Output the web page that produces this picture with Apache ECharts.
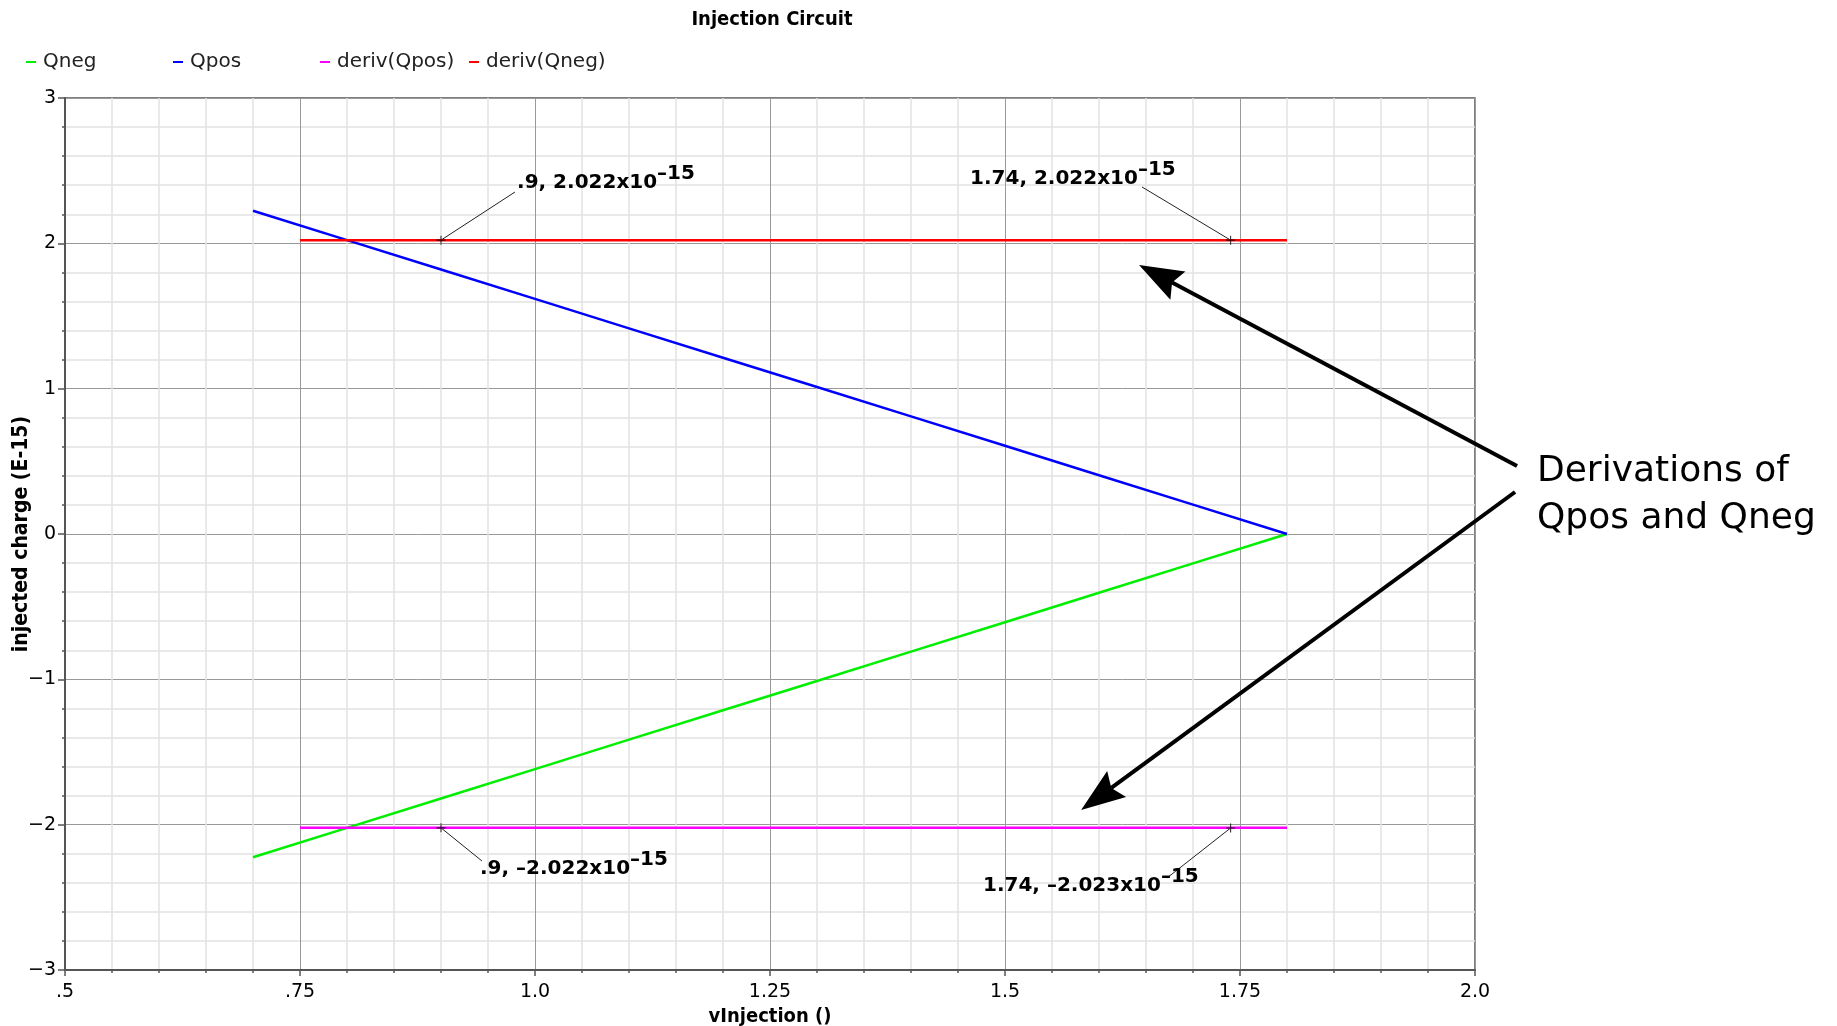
<!DOCTYPE html>
<html><head><meta charset="utf-8">
<script src="https://cdn.jsdelivr.net/npm/echarts@6/dist/echarts.min.js"></script>
<style>html,body{margin:0;padding:0;background:#fff}#c{width:1837px;height:1026px}</style>
</head><body><div id="c"></div>
<script>
// ---- data ----
const xTickLabels = ['.5', '.75', '1.0', '1.25', '1.5', '1.75', '2.0'];
const yTickLabels = ['−3', '−2', '−1', '0', '1', '2', '3'];
const qX = [0.7, 0.8, 0.9, 1.0, 1.1, 1.2, 1.3, 1.4, 1.5, 1.6, 1.7, 1.8];
const qposY = [2.224, 2.022, 1.820, 1.618, 1.415, 1.213, 1.011, 0.809, 0.607, 0.404, 0.202, 0.0];
const qnegY = [-2.224, -2.022, -1.820, -1.618, -1.415, -1.213, -1.011, -0.809, -0.607, -0.404, -0.202, 0.0];
const derivX = [0.75, 0.9, 1.74, 1.8];
const derivQpos = [-2.022, -2.022, -2.022, -2.022];
const derivQneg = [2.022, 2.022, 2.022, 2.022];
const annX = [0.9, 1.74, 0.9, 1.74];
const annY = [2.022, 2.022, -2.022, -2.023];
const annText = ['.9, 2.022x10', '1.74, 2.022x10', '.9, –2.022x10', '1.74, –2.023x10'];
const annExp = '–15';
const seriesNames = ['Qneg', 'Qpos', 'deriv(Qpos)', 'deriv(Qneg)'];
const noteLines = ['Derivations of', 'Qpos and Qneg'];

// ---- layout helpers (positions, not data) ----
const legendLefts = [21, 168, 315, 464];
const leaderEnds = [[0.9787, 2.353], [1.6457, 2.388], [0.9436, -2.250], [1.6723, -2.367]];
const labelAnchors = [[0.9809, 2.415], [1.4628, 2.443], [0.9415, -2.305], [1.4766, -2.422]];
const arrowSegs = [[[2.0447, 0.468], [1.6426, 1.851]], [[2.0426, 0.289], [1.581, -1.899]]];

const pair = (xs, ys) => xs.map((x, i) => [x, ys[i]]);
const condFont = '"DejaVu Sans Condensed", "DejaVu Sans", sans-serif';
const sansFont = '"DejaVu Sans", sans-serif';
const colors = ['#00ee00', '#0000ff', '#ff00ff', '#ff0000'];

const lineSeries = [
  pair(qX, qnegY), pair(qX, qposY), pair(derivX, derivQpos), pair(derivX, derivQneg)
].map((d, i) => ({
  name: seriesNames[i], type: 'line', data: d, showSymbol: false, symbol: 'none',
  lineStyle: { color: colors[i], width: 2.5 }, itemStyle: { color: colors[i] },
  z: 3 + i, animation: false
}));

const plus = 'path://M0,4.4h10v1.2h-10zM4.4,0h1.2v10h-1.2z';

const option = {
  animation: false,
  backgroundColor: '#ffffff',
  title: {
    text: 'Injection Circuit', left: 767, top: 5, textAlign: 'center',
    textStyle: { fontFamily: condFont, fontWeight: 'bold', fontSize: 20, color: '#000' }
  },
  legend: seriesNames.map((n, i) => ({
    left: legendLefts[i], top: 47, icon: 'rect', itemWidth: 10, itemHeight: 2,
    data: [n], selectedMode: false,
    textStyle: { fontFamily: sansFont, fontSize: 20, color: '#222', padding: [0, 0, 0, 2] }
  })),
  grid: {
    left: 65, top: 98, right: 362, bottom: 56, show: true, borderColor: '#555', borderWidth: 1.5,
    containLabel: false, outerBoundsMode: 'none'
  },
  xAxis: {
    type: 'value', min: 0.5, max: 2.0, interval: 0.25,
    name: 'vInjection ()', nameLocation: 'middle', nameGap: 37,
    nameTextStyle: { fontFamily: condFont, fontWeight: 'bold', fontSize: 20, color: '#000', verticalAlign: 'top' },
    axisLine: { show: true, onZero: false, lineStyle: { color: '#555', width: 2 } },
    axisTick: { show: true, length: 6, lineStyle: { color: '#555', width: 1.5 } },
    minorTick: { show: true, splitNumber: 5, length: 3, lineStyle: { color: '#555', width: 1.5 } },
    axisLabel: {
      margin: 13, fontFamily: sansFont, fontSize: 19, color: '#000',
      formatter: (v) => xTickLabels[Math.round((v - 0.5) / 0.25)]
    },
    splitLine: { show: true, lineStyle: { color: '#999', width: 1 } },
    minorSplitLine: { show: true, lineStyle: { color: '#e2e2e2', width: 1.5 } }
  },
  yAxis: {
    type: 'value', min: -3, max: 3, interval: 1,
    name: 'injected charge (E-15)', nameLocation: 'middle', nameGap: 33, nameRotate: 90,
    nameMoveOverlap: false,
    nameTextStyle: { fontFamily: condFont, fontWeight: 'bold', fontSize: 21, color: '#000' },
    axisLine: { show: true, onZero: false, lineStyle: { color: '#555', width: 2 } },
    axisTick: { show: true, length: 7, lineStyle: { color: '#555', width: 1.5 } },
    minorTick: { show: true, splitNumber: 5, length: 3, lineStyle: { color: '#555', width: 1.5 } },
    axisLabel: {
      margin: 9, fontFamily: sansFont, fontSize: 19, color: '#000',
      formatter: (v) => yTickLabels[Math.round(v + 3)]
    },
    splitLine: { show: true, lineStyle: { color: '#999', width: 1 } },
    minorSplitLine: { show: true, lineStyle: { color: '#e2e2e2', width: 1.5 } }
  },
  series: lineSeries.concat([
    {
      name: 'annotations', type: 'scatter', data: pair(annX, annY),
      symbol: plus, symbolSize: 9, itemStyle: { color: '#000' }, z: 10, silent: true,
      markLine: {
        silent: true, symbol: ['none', 'none'], animation: false,
        lineStyle: { color: '#222', width: 1, type: 'solid' }, label: { show: false },
        data: annX.map((x, i) => [{ coord: [x, annY[i]] }, { coord: leaderEnds[i] }])
      },
      markPoint: {
        silent: true, symbol: 'circle', symbolSize: 0, animation: false,
        label: {
          show: true, position: 'right', distance: 0,
          formatter: (p) => '{m|' + annText[p.dataIndex] + '}{s|' + annExp + '}',
          rich: {
            m: { fontFamily: sansFont, fontWeight: 'bold', fontSize: 20, color: '#000', lineHeight: 38 },
            s: { fontFamily: sansFont, fontWeight: 'bold', fontSize: 20, color: '#000', lineHeight: 20, verticalAlign: 'top' }
          }
        },
        data: labelAnchors.map((c) => ({ coord: c }))
      }
    }
  ])
};

const chart = echarts.init(document.getElementById('c'), null, { renderer: 'canvas' });
chart.setOption(option);

// big annotation arrows and note text, positioned through the chart's own scales
function buildGraphics() {
  const els = [];
  arrowSegs.forEach((seg) => {
    const a = chart.convertToPixel({ gridIndex: 0 }, seg[0]);
    const b = chart.convertToPixel({ gridIndex: 0 }, seg[1]);
    const dx = b[0] - a[0], dy = b[1] - a[1];
    const len = Math.hypot(dx, dy);
    const ux = dx / len, uy = dy / len, px = -uy, py = ux;
    const headLen = 44, headHalf = 16;
    const bx = b[0] - ux * headLen, by = b[1] - uy * headLen;
    const nx = b[0] - ux * headLen * 0.85, ny = b[1] - uy * headLen * 0.85;
    els.push({
      type: 'line', z: 100, silent: true,
      shape: { x1: a[0], y1: a[1], x2: nx, y2: ny },
      style: { stroke: '#000', lineWidth: 4 }
    });
    els.push({
      type: 'polygon', z: 100, silent: true,
      shape: { points: [[b[0], b[1]], [bx + px * headHalf, by + py * headHalf], [nx, ny], [bx - px * headHalf, by - py * headHalf]] },
      style: { fill: '#000' }
    });
  });
  const t = chart.convertToPixel({ gridIndex: 0 }, [2.0, 0]);
  els.push({
    type: 'text', x: t[0] + 62, y: t[1] - 86, z: 100, silent: true,
    style: { text: noteLines.join('\n'), font: '36px "DejaVu Sans", sans-serif', fill: '#000', lineHeight: 47 }
  });
  chart.setOption({ graphic: els });
}
buildGraphics();
</script></body></html>
